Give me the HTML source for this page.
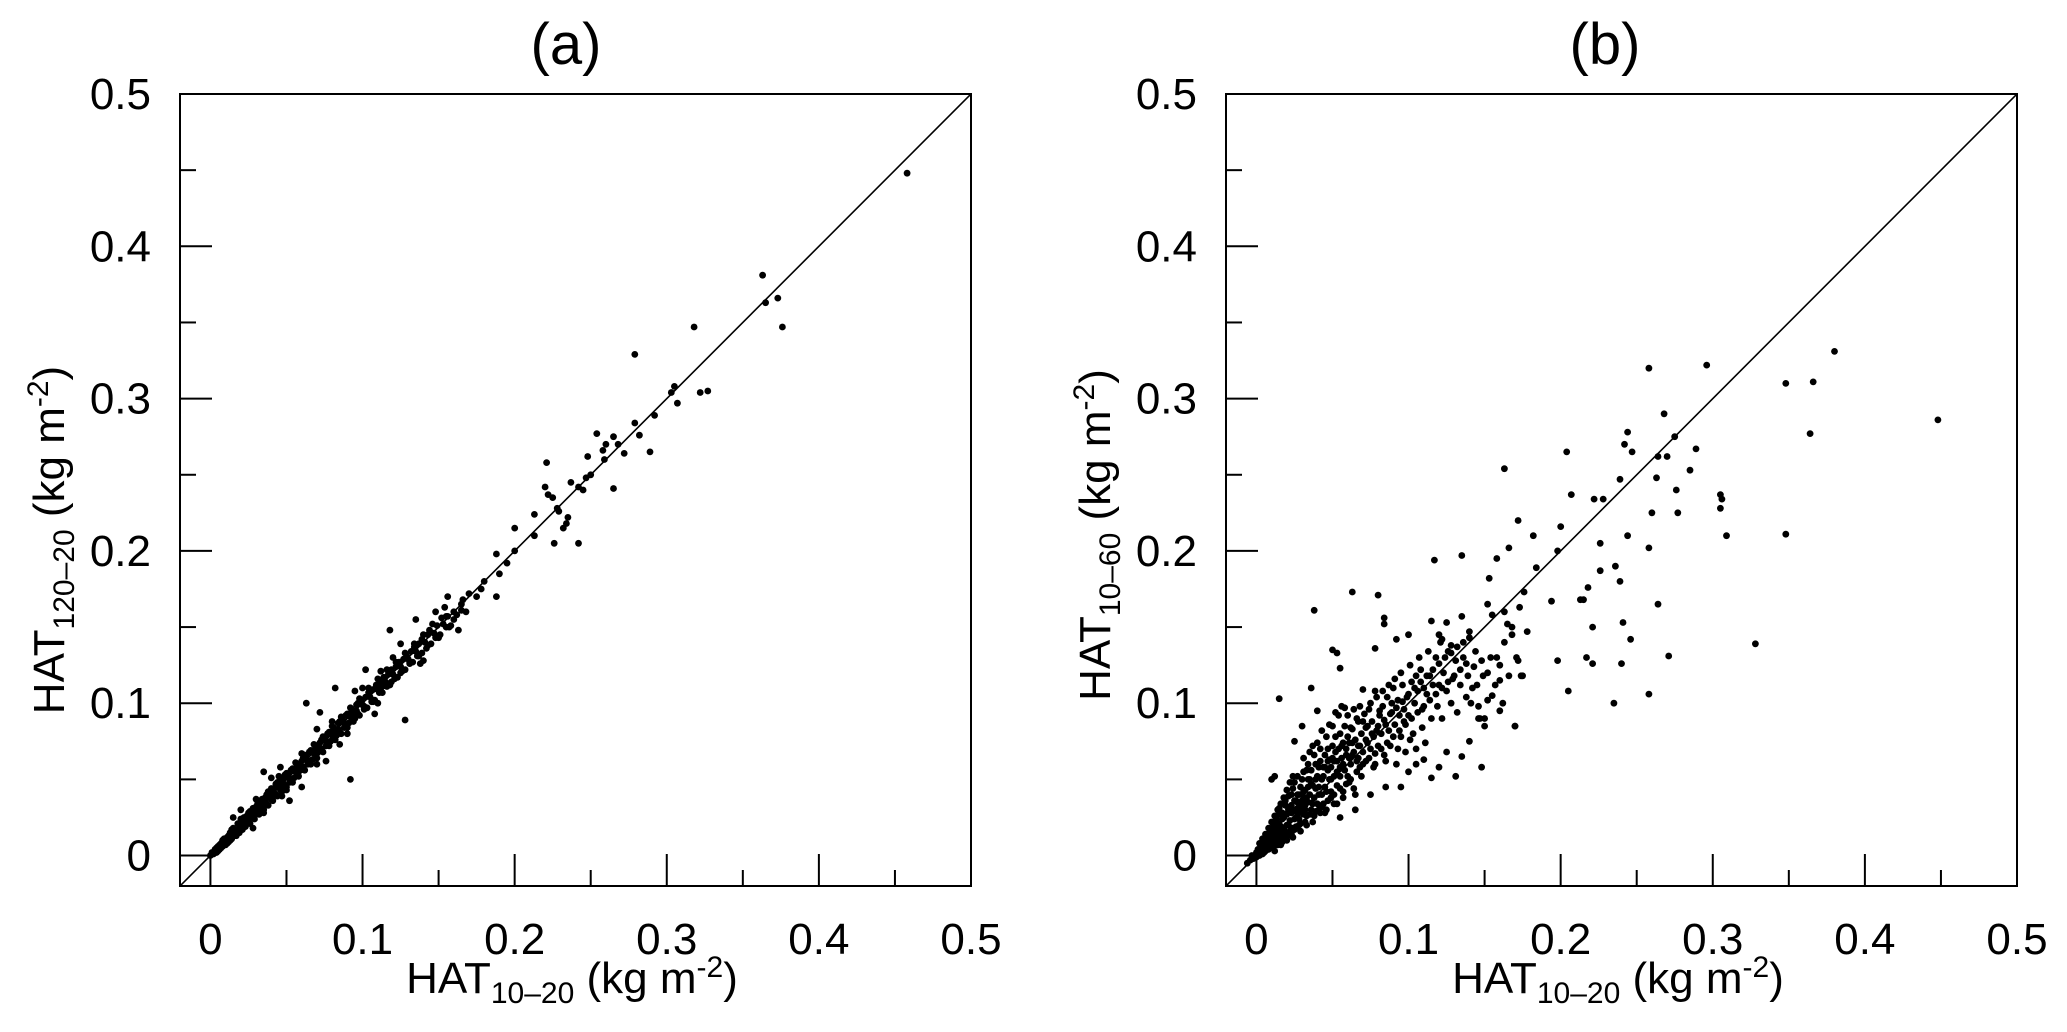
<!DOCTYPE html>
<html><head><meta charset="utf-8"><style>
html,body{margin:0;padding:0;background:#fff;}
svg{display:block;font-family:"Liberation Sans",Arial,sans-serif;}
</style></head><body>
<svg id="chart" width="2067" height="1032" viewBox="0 0 2067 1032" xmlns="http://www.w3.org/2000/svg"></svg>
<script>
const ticksMajor=[0,0.1,0.2,0.3,0.4,0.5];
const tickLabels=["0","0.1","0.2","0.3","0.4","0.5"];
const ticksMinor=[0.05,0.15,0.25,0.35,0.45];
const domain=[-0.02,0.5];
const panelATitle="(a)";
const panelBTitle="(b)";
const panelA=[
[0.000,0.000],[0.002,0.001],[0.003,0.004],[0.004,0.002],[0.005,0.006],[0.006,0.004],[0.007,0.008],[0.008,0.006],[0.009,0.011],[0.010,0.007],[0.011,0.012],[0.012,0.009],[0.013,0.015],[0.014,0.011],[0.015,0.018],[0.016,0.013],[0.017,0.016],[0.018,0.021],[0.019,0.015],[0.020,0.022],[0.021,0.017],[0.022,0.025],[0.023,0.019],[0.024,0.023],[0.025,0.028],[0.026,0.021],[0.027,0.026],[0.028,0.031],[0.029,0.024],[0.030,0.029],[0.031,0.034],[0.032,0.027],[0.033,0.031],[0.034,0.037],[0.035,0.030],[0.036,0.035],[0.037,0.040],[0.038,0.033],[0.039,0.038],[0.040,0.044],[0.041,0.036],[0.042,0.041],[0.043,0.047],[0.044,0.039],[0.045,0.045],[0.046,0.050],[0.047,0.042],[0.048,0.047],[0.049,0.053],[0.050,0.045],[0.052,0.051],[0.053,0.056],[0.054,0.048],[0.056,0.055],[0.057,0.060],[0.058,0.052],[0.060,0.058],[0.061,0.064],[0.062,0.056],[0.064,0.062],[0.065,0.068],[0.066,0.060],[0.068,0.067],[0.069,0.072],[0.070,0.064],[0.072,0.070],[0.073,0.076],[0.074,0.068],[0.076,0.075],[0.077,0.080],[0.078,0.072],[0.080,0.079],[0.081,0.084],[0.082,0.076],[0.084,0.083],[0.085,0.088],[0.086,0.080],[0.088,0.087],[0.089,0.092],[0.090,0.084],[0.092,0.091],[0.093,0.096],[0.094,0.088],[0.096,0.095],[0.097,0.100],[0.098,0.092],[0.100,0.099],[0.102,0.104],[0.103,0.097],[0.105,0.104],[0.107,0.109],[0.108,0.102],[0.110,0.109],[0.112,0.114],[0.113,0.107],[0.115,0.114],[0.117,0.119],[0.118,0.112],[0.120,0.119],[0.122,0.124],[0.123,0.117],[0.125,0.124],[0.127,0.129],[0.128,0.122],[0.130,0.129],[0.132,0.134],[0.133,0.127],[0.135,0.134],[0.137,0.139],[0.139,0.133],[0.141,0.140],[0.143,0.145],[0.145,0.139],[0.147,0.146],[0.149,0.151],[0.151,0.145],[0.153,0.152],[0.156,0.157],[0.158,0.151],
[0.005,0.003],[0.008,0.010],[0.011,0.008],[0.014,0.017],[0.017,0.013],[0.020,0.024],[0.023,0.021],[0.026,0.029],[0.029,0.027],[0.032,0.035],[0.035,0.033],[0.038,0.042],[0.041,0.039],[0.044,0.048],[0.047,0.045],[0.050,0.054],[0.053,0.050],[0.056,0.061],[0.059,0.056],[0.062,0.066],[0.065,0.062],[0.068,0.073],[0.071,0.068],[0.074,0.078],[0.077,0.074],[0.080,0.085],[0.083,0.079],[0.086,0.091],[0.089,0.086],[0.092,0.097],[0.095,0.090],[0.098,0.103],[0.101,0.096],[0.104,0.110],[0.107,0.101],[0.110,0.116],[0.113,0.111],[0.116,0.122],[0.119,0.114],[0.122,0.127],[0.125,0.120],[0.128,0.133],[0.131,0.126],[0.134,0.139],[0.137,0.131],[0.140,0.145],[0.143,0.138],[0.146,0.152],[0.150,0.143],
[0.001,0.002],[0.003,0.002],[0.004,0.005],[0.006,0.007],[0.007,0.005],[0.009,0.008],[0.010,0.011],[0.012,0.013],[0.013,0.010],[0.015,0.014],[0.016,0.017],[0.018,0.016],[0.019,0.020],[0.021,0.022],[0.022,0.019],[0.024,0.026],[0.025,0.023],[0.027,0.028],[0.028,0.025],[0.030,0.032],[0.031,0.028],[0.033,0.035],[0.034,0.032],[0.036,0.038],[0.037,0.034],[0.039,0.041],[0.040,0.037],[0.042,0.044],[0.043,0.040],[0.045,0.047],[0.046,0.043],[0.048,0.050],[0.049,0.046],[0.051,0.053],[0.052,0.048],[0.054,0.057],[0.055,0.051],[0.057,0.058],[0.058,0.055],[0.060,0.062],[0.061,0.058],[0.063,0.065],[0.064,0.060],[0.066,0.069],[0.067,0.063],[0.069,0.070],[0.070,0.067],[0.072,0.074],[0.073,0.070],[0.075,0.077],[0.076,0.072],[0.078,0.081],[0.079,0.075],[0.081,0.082],[0.082,0.079],[0.084,0.087],[0.085,0.081],[0.087,0.089],[0.088,0.084],[0.090,0.093],[0.091,0.087],[0.093,0.094],[0.094,0.091],[0.096,0.099],[0.097,0.093],[0.099,0.102],[0.101,0.098],[0.104,0.107],[0.106,0.101],[0.109,0.112],[0.111,0.107],[0.114,0.117],[0.116,0.111],[0.119,0.122],[0.121,0.116],[0.124,0.127],[0.126,0.121],[0.129,0.131],[0.131,0.127],[0.134,0.137],[0.136,0.131],[0.139,0.142],[0.142,0.136],[0.144,0.148],[0.148,0.143],[0.152,0.156],[0.155,0.150],[0.030,0.037],[0.045,0.052],[0.060,0.067],[0.080,0.088],[0.100,0.110],[0.120,0.130],[0.050,0.043],[0.070,0.060],[0.090,0.080],[0.110,0.100],[0.138,0.126],[0.035,0.028],
[0.063,0.100],[0.072,0.094],[0.128,0.089],[0.092,0.050],[0.052,0.036],[0.047,0.039],[0.040,0.051],[0.035,0.055],[0.118,0.148],[0.102,0.122],[0.082,0.110],[0.135,0.155],[0.112,0.121],[0.060,0.045],[0.076,0.062],[0.085,0.073],[0.020,0.030],[0.015,0.025],[0.028,0.018],[0.046,0.058],[0.070,0.083],[0.095,0.108],[0.108,0.093],[0.140,0.128],[0.125,0.139],[0.148,0.160],[0.154,0.163],[0.157,0.150],[0.162,0.158],[0.165,0.161],
[0.458,0.448],[0.363,0.381],[0.365,0.363],[0.373,0.366],[0.376,0.347],[0.318,0.347],[0.279,0.329],[0.303,0.304],[0.305,0.308],[0.307,0.297],[0.322,0.304],[0.327,0.305],[0.279,0.284],[0.282,0.276],[0.292,0.289],[0.289,0.265],[0.254,0.277],[0.265,0.275],[0.260,0.270],[0.258,0.266],[0.268,0.270],[0.272,0.264],[0.248,0.262],[0.265,0.241],[0.259,0.260],[0.221,0.258],[0.220,0.242],[0.222,0.237],[0.225,0.235],[0.237,0.245],[0.242,0.242],[0.245,0.240],[0.247,0.248],[0.250,0.250],[0.235,0.222],[0.234,0.218],[0.232,0.215],[0.226,0.205],[0.242,0.205],[0.228,0.228],[0.229,0.226],[0.213,0.224],[0.213,0.210],[0.200,0.215],[0.200,0.200],[0.195,0.192],[0.188,0.198],[0.190,0.185],[0.188,0.170],[0.180,0.180],[0.178,0.175],[0.175,0.170],[0.170,0.172],[0.165,0.165],[0.166,0.168],[0.168,0.160],[0.160,0.160],[0.155,0.157],[0.160,0.155],[0.163,0.148],[0.156,0.170]
];
const panelB=[
[-0.006,-0.005],[-0.004,-0.003],[-0.003,0.000],[-0.002,-0.002],[0.000,0.002],[0.000,-0.001],[0.001,0.004],[0.002,0.000],[0.002,0.008],[0.003,0.003],[0.004,0.011],[0.004,0.001],[0.005,0.006],[0.006,0.014],[0.006,0.003],[0.007,0.009],[0.008,0.018],[0.008,0.004],[0.009,0.012],[0.010,0.022],[0.010,0.006],[0.011,0.015],[0.012,0.026],[0.012,0.008],[0.013,0.018],[0.014,0.030],[0.014,0.010],[0.015,0.021],[0.016,0.034],[0.016,0.011],[0.017,0.024],[0.018,0.038],[0.018,0.013],[0.019,0.027],[0.020,0.043],[0.020,0.015],[0.021,0.030],[0.022,0.048],[0.022,0.016],[0.023,0.033],[0.024,0.052],[0.024,0.018],[0.025,0.036],[0.026,0.025],[0.027,0.040],[0.028,0.020],[0.029,0.045],[0.030,0.030],[0.031,0.055],[0.032,0.022],[0.033,0.038],[0.034,0.060],[0.035,0.027],[0.036,0.047],[0.037,0.034],[0.038,0.066],[0.039,0.029],[0.040,0.052],[0.041,0.040],[0.042,0.070],[0.043,0.032],[0.044,0.058],[0.045,0.045],[0.046,0.078],[0.047,0.036],[0.048,0.063],[0.049,0.050],[0.050,0.085],[0.051,0.040],[0.052,0.068],[0.053,0.055],[0.054,0.092],[0.055,0.044],[0.056,0.072],[0.057,0.060],[0.058,0.097],[0.059,0.047],[0.060,0.078],[0.061,0.064],[0.062,0.050],[0.063,0.083],[0.064,0.068],[0.066,0.055],[0.067,0.088],[0.068,0.072],[0.070,0.060],[0.071,0.093],[0.072,0.076],[0.074,0.064],[0.075,0.100],[0.076,0.080],[0.078,0.067],[0.079,0.104],[0.080,0.085],[0.082,0.070],[0.083,0.108],[0.084,0.089],[0.086,0.074],[0.087,0.112],[0.088,0.093],[0.090,0.078],[0.091,0.116],[0.092,0.097],[0.094,0.082],[0.095,0.120],[0.096,0.101],[0.098,0.086],[0.100,0.106],[0.101,0.125],[0.102,0.090],[0.104,0.110],[0.106,0.094],[0.107,0.130],[0.108,0.114],[0.110,0.098],[0.112,0.118],[0.113,0.134],[0.114,0.102],[0.116,0.122],[0.118,0.106],[0.120,0.126],[0.121,0.140],[0.122,0.110],[0.124,0.130],[0.126,0.114],[0.128,0.133],[0.130,0.118],[0.132,0.137],[0.134,0.122],[0.136,0.140],[0.138,0.126],[0.140,0.143],[0.142,0.110],[0.144,0.134],[0.146,0.098],[0.148,0.128],[0.150,0.090],[0.152,0.120],[0.155,0.105],[0.158,0.130],[0.160,0.115],[0.163,0.140],
[0.003,0.006],[0.005,0.002],[0.007,0.012],[0.009,0.007],[0.011,0.019],[0.013,0.009],[0.015,0.027],[0.017,0.014],[0.019,0.033],[0.021,0.020],[0.023,0.040],[0.025,0.024],[0.027,0.031],[0.029,0.016],[0.031,0.042],[0.033,0.026],[0.035,0.050],[0.037,0.022],[0.039,0.044],[0.041,0.030],[0.043,0.050],[0.045,0.028],[0.047,0.056],[0.049,0.038],[0.051,0.062],[0.053,0.034],[0.055,0.058],[0.057,0.042],[0.059,0.070],[0.061,0.048],[0.063,0.074],[0.065,0.040],[0.067,0.064],[0.069,0.052],[0.073,0.085],[0.077,0.058],[0.081,0.095],[0.085,0.062],[0.089,0.100],[0.093,0.070],[0.097,0.088],[0.101,0.076],[0.105,0.118],[0.109,0.084],[0.006,0.009],[0.010,0.013],[0.014,0.020],[0.018,0.025],[0.022,0.031],[0.026,0.036],[0.030,0.040],[0.034,0.045],[0.002,0.004],[0.012,0.003],[0.016,0.007],[0.020,0.010],[0.024,0.012],[0.028,0.028],[0.032,0.033],
[0.001,0.001],[0.003,0.001],[0.004,0.006],[0.005,0.009],[0.006,0.007],[0.007,0.005],[0.008,0.013],[0.008,0.009],[0.009,0.016],[0.010,0.010],[0.011,0.005],[0.011,0.021],[0.012,0.014],[0.013,0.012],[0.013,0.024],[0.014,0.007],[0.015,0.015],[0.015,0.031],[0.016,0.019],[0.017,0.009],[0.017,0.028],[0.018,0.017],[0.019,0.011],[0.019,0.036],[0.020,0.020],[0.020,0.027],[0.021,0.013],[0.021,0.039],[0.022,0.023],[0.023,0.014],[0.023,0.028],[0.024,0.044],[0.024,0.030],[0.025,0.017],[0.025,0.048],[0.026,0.029],[0.026,0.019],[0.027,0.035],[0.027,0.052],[0.028,0.024],[0.028,0.040],[0.029,0.033],[0.029,0.021],[0.030,0.050],[0.030,0.036],[0.031,0.027],[0.031,0.064],[0.032,0.043],[0.032,0.030],[0.033,0.056],[0.033,0.020],[0.034,0.035],[0.034,0.050],[0.035,0.040],[0.035,0.068],[0.036,0.030],[0.036,0.056],[0.037,0.046],[0.037,0.072],[0.038,0.038],[0.038,0.026],[0.039,0.060],[0.039,0.050],[0.040,0.034],[0.040,0.074],[0.041,0.058],[0.041,0.045],[0.042,0.028],[0.042,0.062],[0.043,0.040],[0.043,0.082],[0.044,0.052],[0.044,0.034],[0.045,0.066],[0.045,0.058],[0.046,0.042],[0.046,0.030],[0.047,0.070],[0.047,0.062],[0.048,0.050],[0.048,0.086],[0.049,0.058],[0.049,0.042],[0.050,0.072],[0.050,0.064],[0.051,0.052],[0.051,0.034],[0.052,0.078],[0.052,0.094],[0.053,0.062],[0.053,0.046],[0.054,0.070],[0.055,0.080],[0.055,0.052],[0.056,0.064],[0.056,0.098],[0.057,0.074],[0.057,0.038],[0.058,0.056],[0.058,0.085],[0.059,0.066],[0.060,0.092],[0.060,0.052],[0.061,0.074],[0.062,0.060],[0.062,0.084],[0.063,0.066],[0.064,0.096],[0.064,0.044],[0.065,0.076],[0.066,0.062],[0.066,0.090],[0.067,0.072],[0.068,0.058],[0.068,0.098],[0.069,0.080],[0.070,0.068],[0.070,0.088],[0.072,0.062],[0.072,0.084],[0.073,0.074],[0.074,0.096],[0.075,0.070],[0.076,0.088],[0.077,0.078],[0.078,0.108],[0.078,0.060],[0.079,0.082],[0.080,0.072],[0.081,0.092],[0.082,0.080],[0.083,0.098],[0.084,0.066],[0.085,0.086],[0.086,0.104],[0.087,0.082],[0.088,0.072],[0.089,0.094],[0.090,0.110],[0.091,0.086],[0.092,0.060],[0.093,0.102],[0.094,0.092],[0.095,0.078],[0.096,0.112],[0.097,0.096],[0.098,0.068],[0.099,0.104],[0.100,0.092],[0.102,0.114],[0.103,0.080],[0.104,0.100],[0.105,0.070],[0.106,0.108],[0.108,0.122],[0.109,0.096],[0.110,0.110],[0.111,0.074],[0.112,0.106],[0.114,0.118],[0.115,0.090],[0.116,0.112],[0.118,0.130],[0.119,0.098],[0.120,0.112],[0.122,0.090],[0.123,0.120],[0.125,0.108],[0.126,0.134],[0.128,0.100],[0.129,0.116],[0.131,0.128],[0.132,0.094],[0.134,0.112],[0.136,0.130],[0.138,0.104],[0.139,0.118],[0.141,0.100],[0.143,0.124],[0.145,0.112],[0.147,0.090],[0.149,0.118],[0.152,0.102],[0.154,0.130],[0.157,0.112],[0.160,0.125],[0.162,0.100],[0.166,0.118],[0.168,0.150],[0.171,0.130],[0.175,0.118],
[0.015,0.103],[0.036,0.110],[0.038,0.161],[0.050,0.135],[0.053,0.133],[0.055,0.123],[0.063,0.173],[0.070,0.109],[0.078,0.136],[0.080,0.171],[0.084,0.156],[0.084,0.152],[0.092,0.142],[0.100,0.145],[0.115,0.154],[0.120,0.145],[0.122,0.142],[0.128,0.138],[0.140,0.147],[0.117,0.194],[0.135,0.197],[0.010,0.050],[0.012,0.052],[0.030,0.085],[0.040,0.095],[0.025,0.075],
[0.095,0.045],[0.100,0.055],[0.110,0.063],[0.115,0.051],[0.131,0.052],[0.148,0.058],[0.125,0.068],[0.140,0.075],[0.150,0.085],[0.160,0.095],[0.170,0.085],[0.174,0.118],[0.172,0.128],[0.168,0.145],[0.165,0.152],[0.178,0.147],[0.155,0.158],[0.146,0.090],[0.135,0.065],[0.120,0.058],[0.105,0.060],[0.085,0.045],[0.075,0.040],[0.065,0.030],[0.055,0.025],
[0.258,0.320],[0.296,0.322],[0.380,0.331],[0.348,0.310],[0.366,0.311],[0.364,0.277],[0.448,0.286],[0.268,0.290],[0.244,0.278],[0.247,0.265],[0.242,0.270],[0.275,0.275],[0.289,0.267],[0.204,0.265],[0.264,0.262],[0.270,0.262],[0.285,0.253],[0.263,0.248],[0.239,0.247],[0.163,0.254],[0.207,0.237],[0.222,0.234],[0.228,0.234],[0.276,0.240],[0.305,0.237],[0.306,0.234],[0.305,0.228],[0.260,0.225],[0.277,0.225],[0.172,0.220],[0.200,0.216],[0.244,0.210],[0.182,0.210],[0.309,0.210],[0.348,0.211],[0.226,0.205],[0.166,0.202],[0.258,0.202],[0.198,0.200],[0.184,0.189],[0.158,0.195],[0.236,0.190],[0.226,0.187],[0.239,0.180],[0.153,0.182],[0.218,0.176],[0.213,0.168],[0.215,0.168],[0.194,0.167],[0.176,0.173],[0.264,0.165],[0.152,0.165],[0.163,0.160],[0.173,0.163],[0.135,0.157],[0.125,0.153],[0.221,0.150],[0.241,0.153],[0.246,0.142],[0.328,0.139],[0.198,0.128],[0.217,0.130],[0.221,0.126],[0.240,0.126],[0.271,0.131],[0.258,0.106],[0.235,0.100],[0.205,0.108],[0.170,0.085]
];

const NS="http://www.w3.org/2000/svg";
const svg=document.getElementById('chart');
function mk(tag,attrs,parent,text){const e=document.createElementNS(NS,tag);for(const k in attrs)e.setAttribute(k,attrs[k]);if(text!==undefined)e.textContent=text;(parent||svg).appendChild(e);return e;}

function drawPanel(cfg){
  const L=cfg.left,T=94,W=791,H=792;
  const sx=v=>L+(v-domain[0])/(domain[1]-domain[0])*W;
  const sy=v=>T+H-(v-domain[0])/(domain[1]-domain[0])*H;
  const g=mk('g',{});
  
  
  const clipId='clip'+cfg.key;
  const cp=mk('clipPath',{id:clipId},g);mk('rect',{x:L,y:T,width:W,height:H},cp);
  const ln=mk('line',{x1:sx(domain[0]),y1:sy(domain[0]),x2:sx(domain[1]),y2:sy(domain[1]),stroke:'#000','stroke-width':1.6,'clip-path':'url(#'+clipId+')'},g);
  
  
  const pg=mk('g',{'clip-path':'url(#'+clipId+')'},g);
  
  
  cfg.data.forEach(d=>{
    const c=mk('circle',{cx:sx(d[0]).toFixed(1),cy:sy(d[1]).toFixed(1),r:3.4,fill:'#000'},pg);
    
    
  });
  const fr=mk('rect',{x:L,y:T,width:W,height:H,fill:'none',stroke:'#000','stroke-width':2},g);
  
  
  ticksMajor.forEach((v,i)=>{
    const tx=mk('line',{x1:sx(v),y1:T+H,x2:sx(v),y2:T+H-32,stroke:'#000','stroke-width':2},g);
    
    
    const ty=mk('line',{x1:L,y1:sy(v),x2:L+32,y2:sy(v),stroke:'#000','stroke-width':2},g);
    
    
    const lx=mk('text',{x:sx(v),y:954,'text-anchor':'middle','font-size':44},g,tickLabels[i]);
    
    
    const ly=mk('text',{x:L-29,y:sy(v)+15,'text-anchor':'end','font-size':44},g,tickLabels[i]);
    
    
  });
  ticksMinor.forEach(v=>{
    const tx=mk('line',{x1:sx(v),y1:T+H,x2:sx(v),y2:T+H-16,stroke:'#000','stroke-width':2},g);
    
    
    const ty=mk('line',{x1:L,y1:sy(v),x2:L+16,y2:sy(v),stroke:'#000','stroke-width':2},g);
    
    
  });
  const t=mk('text',{x:cfg.titleX,y:64,'text-anchor':'middle','font-size':58},g,cfg.title);
  
  
  const xt=mk('text',{x:cfg.xTitleX,y:993,'text-anchor':'middle','font-size':44},g);
  
  
  xt.innerHTML='HAT<tspan font-size="30" dy="10">10–20</tspan><tspan dy="-10"> (kg m</tspan><tspan font-size="30" dy="-16">-2</tspan><tspan dy="16">)</tspan>';
  const yt=mk('text',{x:0,y:0,'text-anchor':'middle','font-size':44,transform:'translate('+(cfg.yTitleX+15)+','+cfg.yTitleY+') rotate(-90)'},g);
  
  
  yt.innerHTML='HAT<tspan font-size="30" dy="10">'+cfg.ySub+'</tspan><tspan dy="-10"> (kg m</tspan><tspan font-size="30" dy="-16">-2</tspan><tspan dy="16">)</tspan>';
}
drawPanel({key:'a',name:'panel-a',left:180,data:panelA,title:panelATitle,titleX:566,xTitleX:572,yTitleX:49,yTitleY:540,ySub:'120–20'});
drawPanel({key:'b',name:'panel-b',left:1226,data:panelB,title:panelBTitle,titleX:1605,xTitleX:1618,yTitleX:1095,yTitleY:535,ySub:'10–60'});
</script>
</body></html>
